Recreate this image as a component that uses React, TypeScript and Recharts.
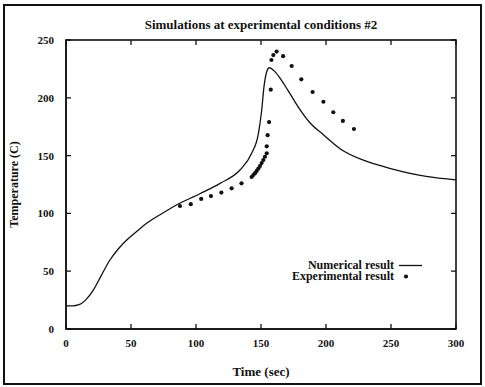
import React from 'react';
import { ComposedChart, Line, Scatter, XAxis, YAxis, Legend } from 'recharts';

const xTicks = [0, 50, 100, 150, 200, 250, 300];
const yTicks = [0, 50, 100, 150, 200, 250];

// simulated temperature (time in sec, temperature in C)
const simTime = [0, 5, 10, 15, 21, 27, 33.8, 40, 46.7, 55, 62, 72, 85, 103, 118.5, 133.8, 142.8, 148, 150.5, 152.3, 154.4, 156.4, 160, 164.6, 171, 178.7, 188, 198, 210.8, 228.7, 249, 277, 300];
const simTemp = [20, 20, 21, 25, 33.7, 46, 59.7, 69, 77, 85, 91.4, 98.6, 107.3, 117, 126, 137.5, 152, 169, 189, 209.6, 222.6, 226, 223.5, 217, 206, 192, 178, 168, 156, 146, 139, 132, 129];

// measured points
const expTime = [87.7, 96, 104, 111.5, 119.5, 127.4, 135, 142.8, 144.1, 145.4, 146.7, 148, 149.2, 150.5, 151.8, 153, 154.4, 154.4, 155.1, 156.2, 157.5, 158, 159.5, 162, 167, 173.6, 181, 189.7, 198, 205.6, 213, 221.5];
const expTemp = [106.4, 108, 112.5, 115, 118, 121.7, 126, 131.5, 133.2, 134.8, 136.7, 138.8, 141, 143.5, 146.2, 149, 152, 158, 167.7, 179, 207, 232.7, 237, 240, 236, 227.5, 216, 205, 196.6, 187.5, 180, 173];

const simData = simTime.map((t, i) => ({ t, v: simTemp[i] }));
const expData = expTime.map((t, i) => ({ t, v: expTemp[i] }));

const font = '"Liberation Serif", "Times New Roman", serif';
const ink = '#111';

// plot box: left 66, top 40, width 390, height 289
const PLOT_W = 390;
const PLOT_H = 289;

// gnuplot style: ticks point inwards and are mirrored on top / right
const BottomTick = ({ x, y, payload }: any) => (
  <g>
    <path d={`M${x},${y}v-5M${x},${y - PLOT_H}v5`} stroke={ink} strokeWidth={1.3} fill="none" />
    <text x={x} y={y + 18} textAnchor="middle" fontFamily={font} fontSize={11} fontWeight="bold" fill={ink}>
      {payload.value}
    </text>
  </g>
);

const LeftTick = ({ x, y, payload }: any) => (
  <g>
    <path d={`M${x},${y}h5M${x + PLOT_W},${y}h-5`} stroke={ink} strokeWidth={1.3} fill="none" />
    <text x={x - 12} y={y + 4} textAnchor="end" fontFamily={font} fontSize={11} fontWeight="bold" fill={ink}>
      {payload.value}
    </text>
  </g>
);

const Dot = (p: any) => <circle cx={p.cx} cy={p.cy} r={2.1} fill={ink} />;

const LegendBox = ({ payload }: any) => {
  const items = (payload || [])
    .filter((e: any) => e.type !== 'none')
    .sort((a: any, b: any) => (a.type === 'line' ? -1 : 0) - (b.type === 'line' ? -1 : 0));
  return (
    <div style={{ width: 140, fontFamily: font, fontSize: 12, fontWeight: 'bold', color: ink, lineHeight: '11px' }}>
      {items.map((e: any) => (
        <div key={e.value} style={{ display: 'flex', justifyContent: 'flex-end', alignItems: 'center', height: 11 }}>
          <span style={{ whiteSpace: 'nowrap' }}>{e.value}</span>
          <svg width={24} height={11} style={{ marginLeft: 5 }}>
            {e.type === 'line'
              ? <line x1={0} y1={5.5} x2={23} y2={5.5} stroke={ink} strokeWidth={1.3} />
              : <circle cx={7} cy={5.5} r={2.1} fill={ink} />}
          </svg>
        </div>
      ))}
    </div>
  );
};

export default function App() {
  return (
    <div style={{ position: 'fixed', left: 0, top: 0, width: 485, height: 387, background: '#fff' }}>
      <div style={{ position: 'absolute', left: 0, top: 0 }}>
        <ComposedChart width={485} height={387} margin={{ top: 40, right: 29, bottom: 8, left: 6 }}>
          <text x={261} y={29} textAnchor="middle" fontFamily={font} fontSize={13} fontWeight="bold" fill={ink}>
            Simulations at experimental conditions #2
          </text>
          <XAxis
            dataKey="t"
            type="number"
            domain={[0, 300]}
            ticks={xTicks}
            interval={0}
            height={50}
            tickSize={0}
            tickMargin={0}
            tick={<BottomTick />}
            tickLine={false}
            axisLine={{ stroke: ink, strokeWidth: 1.3 }}
            label={{ value: 'Time (sec)', position: 'insideBottom', offset: 3, fontFamily: font, fontSize: 13, fontWeight: 'bold', fill: ink }}
          />
          <YAxis
            type="number"
            domain={[0, 250]}
            ticks={yTicks}
            interval={0}
            width={60}
            tickSize={0}
            tickMargin={0}
            tick={<LeftTick />}
            tickLine={false}
            axisLine={{ stroke: ink, strokeWidth: 1.3 }}
            label={{ value: 'Temperature (C)', angle: -90, position: 'insideLeft', offset: 8, fontFamily: font, fontSize: 12, fontWeight: 'bold', fill: ink, style: { textAnchor: 'middle' } }}
          />
          <Legend
            layout="horizontal"
            verticalAlign="middle"
            align="center"
            content={<LegendBox />}
            wrapperStyle={{ left: 283, top: 260, width: 140 }}
          />
          <Line
            data={simData}
            dataKey="v"
            name="Numerical result"
            type="monotone"
            stroke={ink}
            strokeWidth={1.3}
            dot={false}
            legendType="line"
            isAnimationActive={false}
          />
          <Scatter
            data={expData}
            dataKey="v"
            name="Experimental result"
            shape={<Dot />}
            legendType="circle"
            isAnimationActive={false}
          />
        </ComposedChart>
      </div>
      <svg width={485} height={387} style={{ position: 'absolute', left: 0, top: 0, pointerEvents: 'none', zIndex: 20 }}>
        <rect x={66} y={40} width={390} height={289} fill="none" stroke={ink} strokeWidth={1.6} />
        <rect x={4} y={5} width={477} height={379} fill="none" stroke={ink} strokeWidth={2} />
      </svg>
    </div>
  );
}
